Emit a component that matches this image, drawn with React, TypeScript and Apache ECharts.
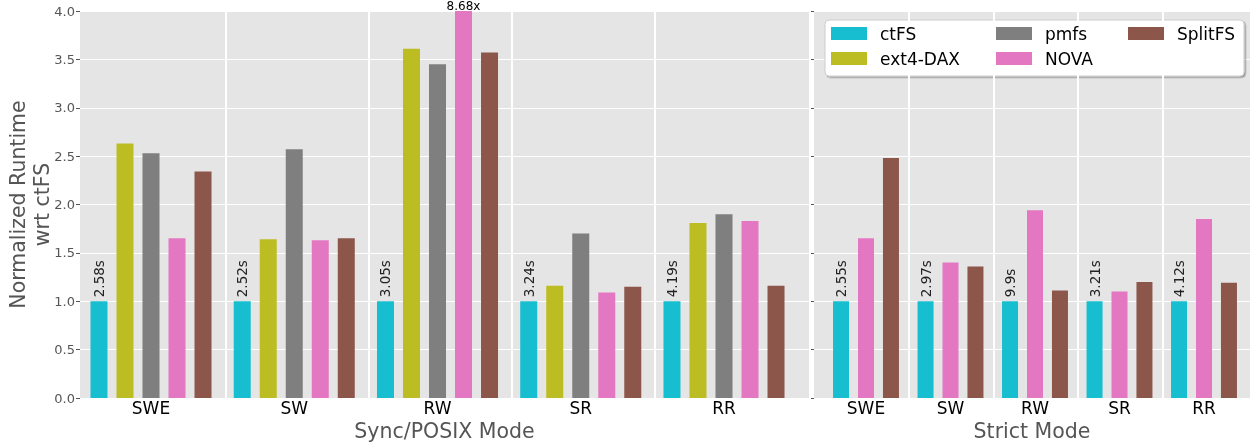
import React, { useEffect, useRef } from "react";
import * as echarts from "echarts";

const categories = ["SWE", "SW", "RW", "SR", "RR"];
const systems = ["ctFS", "ext4-DAX", "pmfs", "NOVA", "SplitFS"];
const colors: Record<string, string> = {
  ctFS: "#17becf",
  "ext4-DAX": "#bcbd22",
  pmfs: "#7f7f7f",
  NOVA: "#e377c2",
  SplitFS: "#8c564b",
};

// Sync/POSIX mode (normalized runtime wrt ctFS)
const syncCtfs = [1, 1, 1, 1, 1];
const syncCtfsTime = ["2.58s", "2.52s", "3.05s", "3.24s", "4.19s"];
const syncExt4 = [2.63, 1.64, 3.61, 1.16, 1.81];
const syncPmfs = [2.53, 2.57, 3.45, 1.7, 1.9];
const syncNova = [1.65, 1.63, 8.68, 1.09, 1.83];
const syncSplit = [2.34, 1.65, 3.57, 1.15, 1.16];

// Strict mode
const strictCtfs = [1, 1, 1, 1, 1];
const strictCtfsTime = ["2.55s", "2.97s", "9.9s", "3.21s", "4.12s"];
const strictNova = [1.65, 1.4, 1.94, 1.1, 1.85];
const strictSplit = [2.48, 1.36, 1.11, 1.2, 1.19];

const Y_MIN = 0;
const Y_MAX = 4;
const Y_STEP = 0.5;

const FONT = "DejaVu Sans";
const BG = "#e5e5e5";

export default function App() {
  const ref = useRef<HTMLDivElement>(null);

  useEffect(() => {
    if (!ref.current) return;
    const chart = echarts.init(ref.current, null, { renderer: "svg" });

    const top = 11;
    const bottom = 48;

    const clipData = (arr: number[]) =>
      arr.map((v) =>
        v > Y_MAX
          ? {
              value: Y_MAX,
              label: {
                show: true,
                position: "top",
                distance: -1,
                rotate: 0,
                align: "center",
                verticalAlign: "bottom",
                fontSize: 12,
                lineHeight: 12,
                color: "#000",
                formatter: `${v}x`,
              },
            }
          : v
      );

    const timeLabel = (times: string[]) => ({
      show: true,
      position: "top",
      rotate: 90,
      align: "left",
      verticalAlign: "middle",
      distance: 4,
      fontSize: 13.5,
      color: "#222",
      fontFamily: FONT,
      formatter: (p: any) => times[p.dataIndex],
    });

    const barSeries = (
      name: string,
      data: number[],
      axis: number,
      width: number,
      gap: string,
      times?: string[]
    ) => ({
      type: "bar",
      name,
      xAxisIndex: axis,
      yAxisIndex: axis,
      barWidth: width,
      barGap: gap,
      itemStyle: { color: colors[name] },
      data: clipData(data),
      label: times ? timeLabel(times) : { show: false },
    });

    const sepSeries = (axis: number, offset: number) => ({
      type: "line",
      xAxisIndex: axis,
      yAxisIndex: axis,
      data: [],
      silent: true,
      markLine: {
        silent: true,
        symbol: "none",
        label: { show: false },
        lineStyle: { color: "#ffffff", width: 2, type: "solid" },
        data: [0, 1, 2, 3].map((i) => ({ xAxis: i + offset })),
      },
    });

    const bgYAxis = (grid: number, labels: boolean, name?: string) => ({
      gridIndex: grid,
      type: "value",
      min: Y_MIN,
      max: Y_MAX,
      interval: Y_STEP,
      name: name || "",
      nameLocation: "middle",
      nameGap: 26,
      nameMoveOverlap: false,
      nameTextStyle: { fontSize: 20.5, color: "#555", lineHeight: 24, fontFamily: FONT },
      axisLine: { show: false, onZero: false },
      axisTick: { show: true, length: 4, lineStyle: { color: "#555", width: 1 } },
      axisLabel: {
        show: labels,
        fontSize: 13,
        color: "#555",
        margin: 5,
        fontFamily: FONT,
        formatter: (v: number) => v.toFixed(1),
      },
      splitLine: { show: true, lineStyle: { color: "#ffffff", width: 1.2 } },
    });

    const hiddenY = (grid: number) => ({
      gridIndex: grid,
      type: "value",
      min: Y_MIN,
      max: Y_MAX,
      show: false,
      axisLine: { onZero: false },
    });

    const bgXAxis = (grid: number, min: number, max: number, name: string) => ({
      gridIndex: grid,
      type: "value",
      min,
      max,
      name,
      nameLocation: "middle",
      nameGap: 22,
      nameMoveOverlap: false,
      nameTextStyle: { fontSize: 20.5, color: "#555", fontFamily: FONT },
      axisLine: { show: false, onZero: false },
      axisTick: { show: false },
      axisLabel: { show: false },
      splitLine: { show: false },
    });

    const catXAxis = (grid: number) => ({
      gridIndex: grid,
      type: "category",
      data: categories,
      axisLine: { show: false, onZero: false },
      axisTick: { show: false },
      axisLabel: { fontSize: 17, color: "#000", margin: 1, fontFamily: FONT },
      splitLine: { show: false },
    });

    const legendBase = {
      orient: "vertical",
      top: 25,
      itemWidth: 36,
      itemHeight: 13,
      itemGap: 8,
      padding: 0,
      icon: "rect",
      selectedMode: false,
      z: 10,
      textStyle: {
        fontSize: 17,
        color: "#000",
        lineHeight: 17,
        fontFamily: FONT,
        padding: [0, 0, 0, 8],
      },
    };

    const gridBase = { top, bottom, outerBoundsMode: "none", containLabel: false };

    chart.setOption({
      animation: false,
      textStyle: { fontFamily: FONT },
      grid: [
        { ...gridBase, left: 80, right: 441, show: true, backgroundColor: BG, borderWidth: 0 },
        { ...gridBase, left: 79.375, right: 454.375 },
        { ...gridBase, left: 814, right: 0, show: true, backgroundColor: BG, borderWidth: 0 },
        { ...gridBase, left: 823.75, right: 3.75 },
      ],
      xAxis: [
        bgXAxis(0, -0.4956, 4.5934, "Sync/POSIX Mode"),
        catXAxis(1),
        bgXAxis(2, -0.615, 4.544, "Strict Mode"),
        catXAxis(3),
      ],
      yAxis: [
        bgYAxis(0, true, "Normalized Runtime\nwrt ctFS"),
        hiddenY(1),
        { ...bgYAxis(2, false), axisTick: { show: true, length: 3, lineStyle: { color: "#555", width: 1 } } },
        hiddenY(3),
      ],
      legend: [
        { ...legendBase, left: 831, data: ["ctFS", "ext4-DAX"] },
        { ...legendBase, left: 996, data: ["pmfs", "NOVA"] },
        { ...legendBase, left: 1128, data: ["SplitFS"] },
      ],
      graphic: {
        elements: [
          {
            type: "rect",
            z: 5,
            silent: true,
            shape: { x: 825, y: 20, width: 419, height: 56, r: 4 },
            style: {
              fill: "#ffffff",
              stroke: "#cccccc",
              lineWidth: 1,
              shadowBlur: 0,
              shadowOffsetX: 1.5,
              shadowOffsetY: 1.5,
              shadowColor: "rgba(0,0,0,0.3)",
            },
          },
        ],
      },
      series: [
        sepSeries(0, 0.524),
        sepSeries(2, 0.51),
        barSeries(systems[0], syncCtfs, 1, 17, "53%", syncCtfsTime),
        barSeries(systems[1], syncExt4, 1, 17, "53%"),
        barSeries(systems[2], syncPmfs, 1, 17, "53%"),
        barSeries(systems[3], syncNova, 1, 17, "53%"),
        barSeries(systems[4], syncSplit, 1, 17, "53%"),
        barSeries(systems[0], strictCtfs, 3, 16, "56%", strictCtfsTime),
        barSeries(systems[3], strictNova, 3, 16, "56%"),
        barSeries(systems[4], strictSplit, 3, 16, "56%"),
      ],
    } as any);

    return () => chart.dispose();
  }, []);

  return (
    <div
      ref={ref}
      style={{ position: "fixed", left: 0, top: 0, width: 1250, height: 446 }}
    />
  );
}
